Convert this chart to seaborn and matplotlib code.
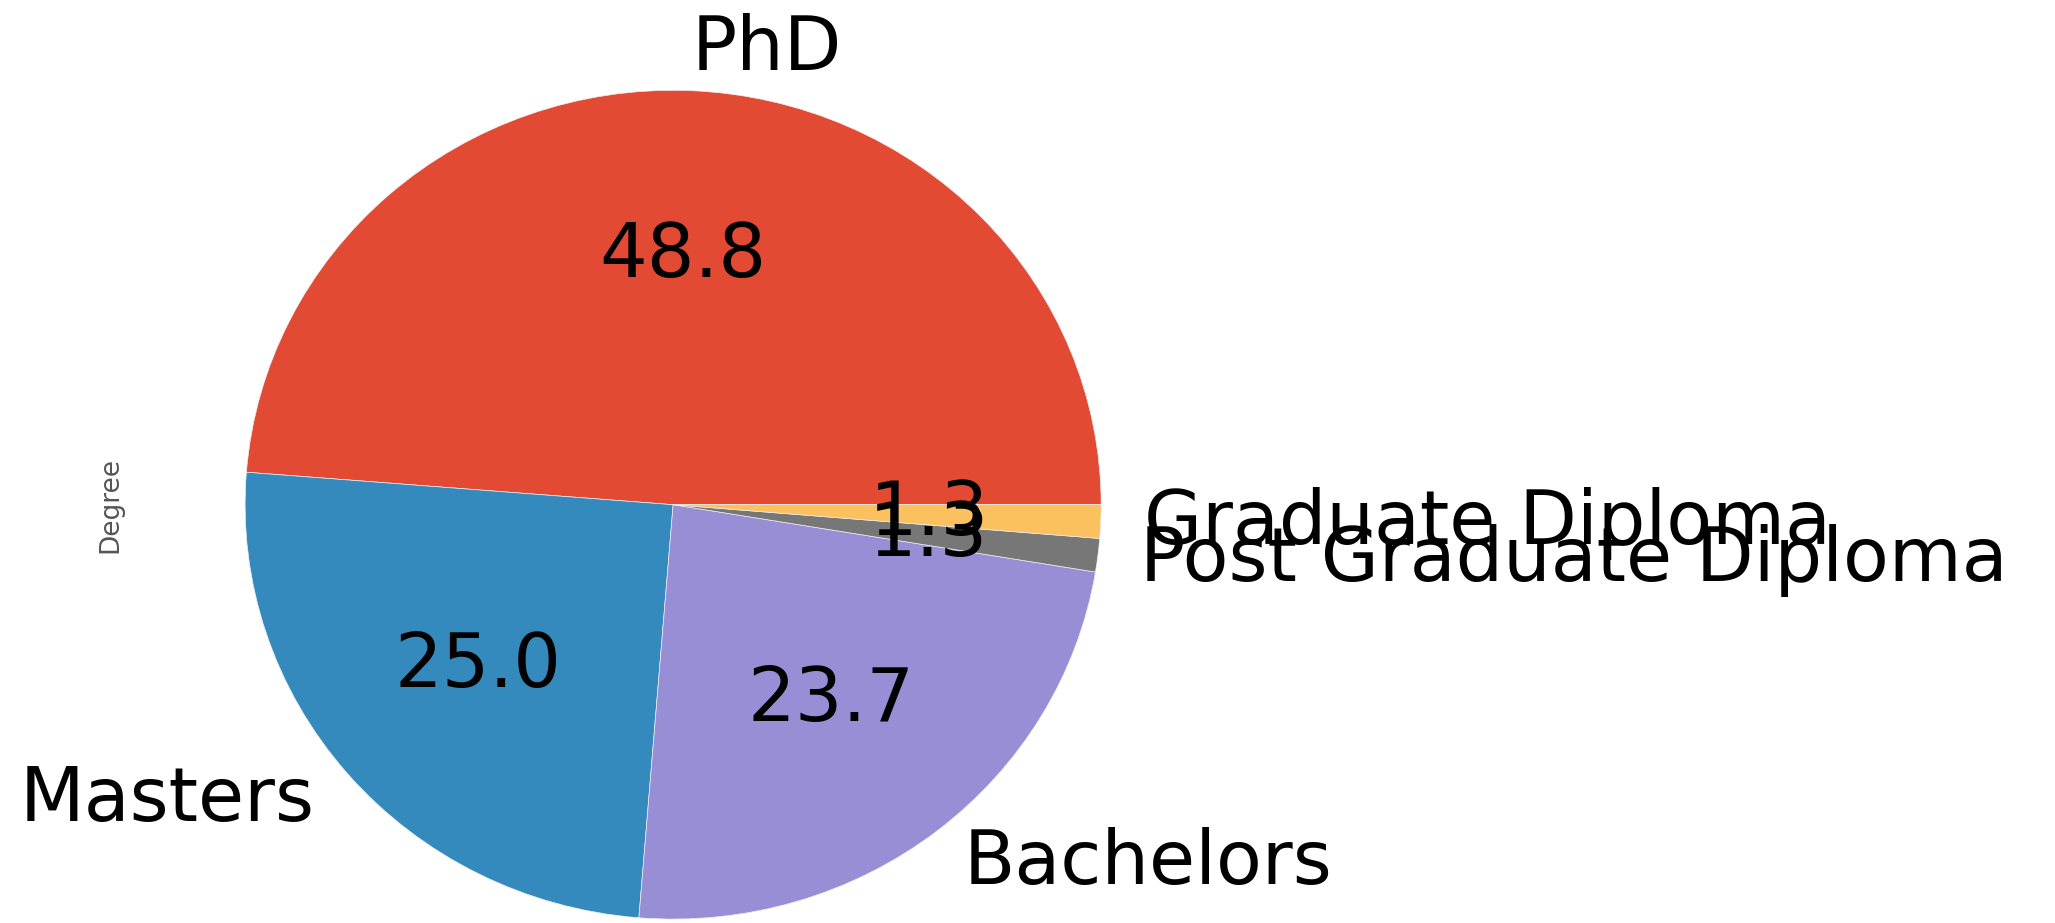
import matplotlib
matplotlib.use("Agg")
import matplotlib.pyplot as plt
import seaborn as sns

plt.style.use("ggplot")

labels = ["PhD", "Masters", "Bachelors", "Post Graduate Diploma", "Graduate Diploma"]
values = [48.8, 25.0, 23.7, 1.3, 1.3]
colors = sns.color_palette(["#E24A33", "#348ABD", "#988ED5", "#777777", "#FBC15E"])

fig = plt.figure(figsize=(20.55, 9.23), dpi=100)
fig.patch.set_facecolor("white")
ax = fig.add_axes([0.0672, -0.108, 0.5207, 1.1224])
ax.set_facecolor("white")

ax.pie(values, labels=labels, colors=colors, autopct="%.1f",
       textprops={"fontsize": 54, "color": "black"},
       wedgeprops={"edgecolor": "#EEEEEE", "linewidth": 0.5})
ax.set_aspect("auto")
ax.set_xlim(-1.25, 1.25)
ax.set_ylim(-1.25, 1.25)
ax.set_ylabel("Degree", fontsize=19, color="#555555")
ax.yaxis.set_label_coords(-0.014, 0.5)

fig.savefig("out.png", dpi=100, facecolor="white")
